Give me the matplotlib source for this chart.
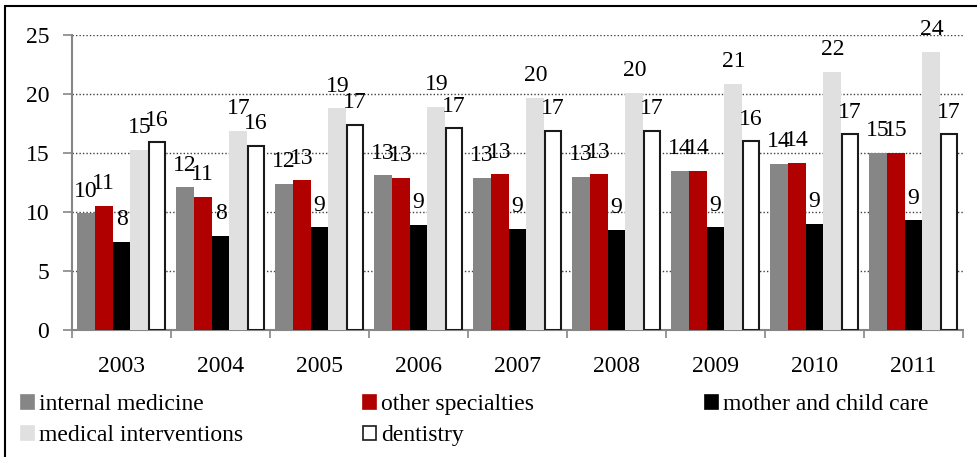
import matplotlib.pyplot as plt
import numpy as np
from matplotlib.patches import Rectangle, Patch

plt.rcParams['font.family'] = 'serif'
plt.rcParams['font.serif'] = ['Liberation Serif', 'Times New Roman', 'DejaVu Serif']

years = ['2003', '2004', '2005', '2006', '2007', '2008', '2009', '2010', '2011']
internal = [9.9, 12.1, 12.4, 13.1, 12.9, 13.0, 13.5, 14.1, 15.0]
other = [10.5, 11.3, 12.7, 12.9, 13.2, 13.2, 13.5, 14.2, 15.0]
mother = [7.5, 8.0, 8.7, 8.9, 8.6, 8.5, 8.7, 9.0, 9.3]
medical = [15.3, 16.9, 18.8, 18.9, 19.7, 20.1, 20.9, 21.9, 23.6]
dentistry = [15.9, 15.6, 17.4, 17.1, 16.9, 16.9, 16.0, 16.6, 16.6]

series = [
    ('internal medicine', internal, '#868686', 'none'),
    ('other specialties', other, '#b00000', 'none'),
    ('mother and child care', mother, '#000000', 'none'),
    ('medical interventions', medical, '#e0e0e0', 'none'),
    ('dentistry', dentistry, '#ffffff', '#1a1a1a'),
]

fs = 17

fig = plt.figure(figsize=(9.77, 4.57), dpi=100)
ax = fig.add_axes([0.0737, 0.278, 0.912, 0.645])

x = np.arange(len(years))
w = 0.18
for i, (name, vals, col, ec) in enumerate(series):
    pos = x + (i - 2) * w
    lw = 1.5 if ec != 'none' else 0
    ax.bar(pos, vals, width=w if ec == 'none' else w * 0.9, color=col,
           edgecolor=ec, linewidth=lw, zorder=3)
    for p, v in zip(pos, vals):
        ax.annotate(str(int(v + 0.5)), (p, v), xytext=(0, 12), textcoords='offset points',
                    ha='center', va='baseline', fontsize=fs, zorder=4)

ax.set_ylim(0, 25)
ax.set_xlim(-0.5, len(years) - 0.5)
ax.set_yticks(range(0, 26, 5))
ax.set_xticks(x)
ax.set_xticklabels(years)
ax.tick_params(axis='both', labelsize=fs, color='#868686')
ax.tick_params(axis='x', length=0, pad=19)
ax.tick_params(axis='y', length=6.5, width=1.2, direction='out', pad=10)
ax.set_xticks(np.arange(-0.5, len(years)), minor=True)
ax.tick_params(axis='x', which='minor', length=6, width=1.2, color='#868686')
ax.yaxis.grid(True, linestyle=(0, (1, 1.5)), color='#404040', linewidth=1.0, zorder=0)
for s in ['top', 'right']:
    ax.spines[s].set_visible(False)
ax.spines['left'].set_color('#868686')
ax.spines['bottom'].set_color('#868686')
ax.spines['left'].set_linewidth(1.5)
ax.spines['bottom'].set_linewidth(1.5)

# legend: fixed-width columns, filled row by row
cols = [[0, 3], [1, 4], [2]]
col_x = [0.022, 0.372, 0.722]
for cx, idx in zip(col_x, cols):
    handles = []
    for k in idx:
        n, v, c, e = series[k]
        handles.append(Patch(facecolor=c, edgecolor=(e if e != 'none' else c),
                             linewidth=1.2, label=n))
    fig.legend(handles=handles, loc='upper left', bbox_to_anchor=(cx, 0.137), ncol=1,
               frameon=False, fontsize=fs, handlelength=0.55, handleheight=0.55,
               handletextpad=0.2, labelspacing=0.42, borderaxespad=0, borderpad=0)

fig.patches.append(Rectangle((5 / 977, -0.05), 1.2, 1 - 6 / 457 + 0.05,
                             transform=fig.transFigure, fill=False,
                             edgecolor='black', linewidth=1.5))

fig.savefig('out.png', dpi=100)
